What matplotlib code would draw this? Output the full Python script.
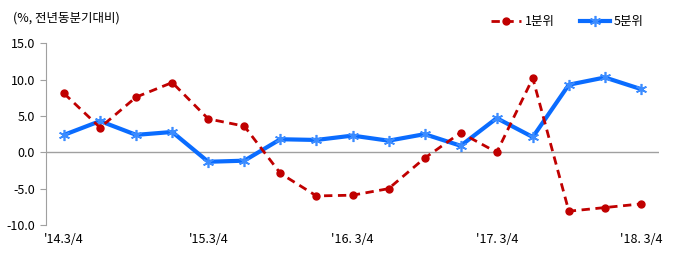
import numpy as np
import matplotlib
matplotlib.use('Agg')
import matplotlib.pyplot as plt

plt.rcParams['font.family'] = ['Noto Sans CJK KR', 'DejaVu Sans']

# 데이터 (분기별, '14.1/4 ~ '18.1/4)
q1 = [8.1, 3.4, 7.6, 9.6, 4.6, 3.6, -2.9, -6.0, -5.9, -5.0, -0.8, 2.7, 0.0, 10.2, -8.1, -7.6, -7.1]
q5 = [2.4, 4.3, 2.4, 2.8, -1.3, -1.15, 1.8, 1.7, 2.3, 1.6, 2.5, 0.9, 4.7, 2.1, 9.3, 10.3, 8.7]
xlabels = ["'14.3/4", "'15.3/4", "'16. 3/4", "'17. 3/4", "'18. 3/4"]
xlabel_pos = [0, 4, 8, 12, 16]
yticks = [-10, -5, 0, 5, 10, 15]

x = np.arange(len(q1))

fig = plt.figure(figsize=(6.79, 2.61), dpi=100)
ax = fig.add_axes([46/679, 1 - 225/261, 613/679, (225 - 43.3)/261])

ax.axhline(0, color='#A0A0A0', lw=1, zorder=1)

ax.plot(x, q1, color='#C00000', lw=2, ls=(0, (3, 2)), marker='o', ms=5,
        label='1분위', zorder=3)
ax.plot(x, q5, color='#0A6CFF', lw=3, marker=(6, 2, 0), ms=8, mew=1.2,
        mec='#3C8CFF', label='5분위', zorder=2)

ax.set_xlim(-0.5, 16.5)
ax.set_ylim(-10, 15)
ax.set_yticks(yticks)
ax.set_yticklabels(['%.1f' % v for v in yticks], fontsize=9)
ax.set_xticks(xlabel_pos)
ax.set_xticklabels(xlabels, fontsize=9)
ax.tick_params(axis='x', length=0, pad=6)
ax.tick_params(axis='y', length=4, color='#A0A0A0', pad=4)

for s in ['top', 'right', 'bottom']:
    ax.spines[s].set_visible(False)
ax.spines['left'].set_color('#A0A0A0')

fig.text(13/679, 1 - 18/261, '(%, 전년동분기대비)', fontsize=9, va='center', ha='left')

fig.legend(loc='center right', bbox_to_anchor=(655/679, 1 - 22/261), ncol=2,
           frameon=False, fontsize=9, handlelength=2.4, columnspacing=2.0,
           handletextpad=0.3)

fig.savefig('out.png', dpi=100)
